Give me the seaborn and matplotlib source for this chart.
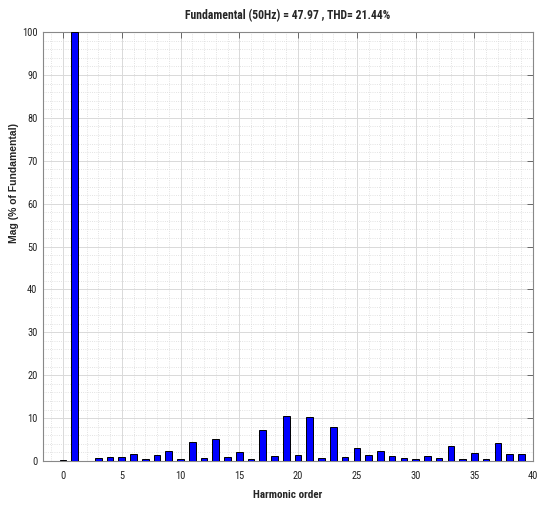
import numpy as np
import pandas as pd
import matplotlib
matplotlib.use("Agg")
import matplotlib.pyplot as plt
import seaborn as sns
from matplotlib.ticker import MultipleLocator

# Data
harmonics = list(range(0, 40))
magnitudes = [0.3, 100, 0.05, 0.63, 0.87, 0.87, 1.57, 0.4, 1.34, 2.28,
              0.4, 4.4, 0.63, 5.1, 0.87, 2.05, 0.4, 7.2, 1.1, 10.5,
              1.34, 10.2, 0.63, 8.0, 0.87, 3.15, 1.34, 2.28, 1.1, 0.63,
              0.4, 1.1, 0.63, 3.4, 0.4, 1.8, 0.4, 4.1, 1.57, 1.57]
title = "Fundamental (50Hz) = 47.97 , THD= 21.44%"

df = pd.DataFrame({"Harmonic": harmonics, "Mag": magnitudes})

sns.set_style("white")
plt.rcParams['font.family'] = ['Roboto Condensed', 'DejaVu Sans']

fig = plt.figure(figsize=(5.38, 5.07), dpi=100)
ax = fig.add_axes([0.080, 0.0907, 0.911, 0.846])

sns.barplot(data=df, x="Harmonic", y="Mag", native_scale=True, width=0.57,
            color="#0000ff", saturation=1, edgecolor="black", linewidth=0.7,
            ax=ax, zorder=3)

ax.set_xlim(-1.7, 40)
ax.set_ylim(0, 100)
ax.xaxis.set_major_locator(MultipleLocator(5))
ax.xaxis.set_minor_locator(MultipleLocator(1))
ax.yaxis.set_major_locator(MultipleLocator(10))
ax.yaxis.set_minor_locator(MultipleLocator(2))

ax.grid(which="major", color="#d9d9d9", linestyle="-", linewidth=0.7, zorder=0)
ax.grid(which="minor", color="#d9d9d9", linestyle=":", linewidth=0.6, zorder=0)
ax.set_axisbelow(True)

ax.tick_params(which="major", direction="in", length=4, width=0.6, color="#555555",
               top=True, right=True, labelsize=7.5, pad=4, labelcolor="#222222")
ax.tick_params(axis="x", pad=7)
ax.tick_params(which="minor", length=0)
for s in ax.spines.values():
    s.set_color("#888888")
    s.set_linewidth(0.8)

ax.set_title(title, fontsize=8.5, fontweight="bold", pad=9)
ax.set_xlabel("Harmonic order", fontsize=8, fontweight="bold", labelpad=7)
ax.set_ylabel("Mag (% of Fundamental)", fontsize=7.5, fontweight="bold",
              family=["Liberation Sans", "DejaVu Sans"])
ax.yaxis.set_label_coords(-0.050, 0.648)

fig.savefig("out.png", dpi=100, facecolor="white")
